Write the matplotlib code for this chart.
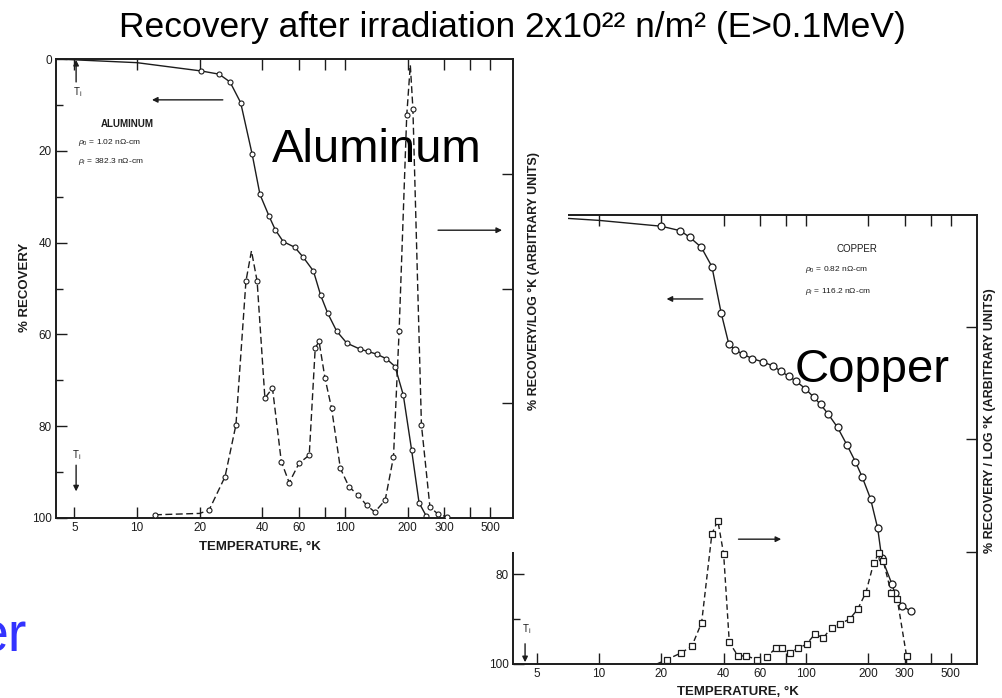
import matplotlib
matplotlib.use('Agg')
import matplotlib.pyplot as plt
import matplotlib.patches as mpatches
from matplotlib.ticker import FixedLocator, FixedFormatter, NullLocator

# ---------------- data ----------------
# Aluminum: % recovery (left axis, solid line)
al_rec_T = [4.1, 10, 20.3, 24.8, 28, 31.5, 35.8, 39, 43.2, 46.2, 50.5, 57.3, 63, 70.5,
            76.4, 82.6, 91.2, 102, 118, 128.5, 142, 158, 174, 190.6, 209, 227, 246]
al_rec = [0, 0.8, 2.6, 3.3, 5, 9.5, 20.8, 29.5, 34.3, 37.2, 39.8, 41, 43.2, 46.2,
          51.5, 55.4, 59.3, 61.9, 63.2, 63.7, 64.3, 65.3, 67, 73.2, 85.2, 96.7, 99.6]
# Aluminum: derivative (right axis, dashed line, arbitrary units)
al_der_T = [12.2, 20, 22.2, 26.5, 29.9, 33.4, 35.5, 37.8, 41.2, 44.8, 49.4, 53.9, 60.1,
            67.3, 71.9, 75, 80.1, 86.2, 95, 104.5, 115.5, 126.9, 139, 156, 171, 182,
            198, 206, 212, 233, 256, 279, 309]
al_der = [0.7, 1, 1.7, 9, 20.3, 51.6, 58.2, 51.6, 26.1, 28.3, 12.3, 7.7, 11.9,
          13.7, 37, 38.5, 30.5, 23.9, 10.8, 6.8, 5, 2.8, 1.3, 3.9, 13.3, 40.7,
          87.7, 98.7, 89.2, 20.3, 2.4, 0.9, 0.2]

# Copper: % recovery (left axis, solid line)
cu_rec_T = [3.9, 10, 20.0, 24.7, 27.5, 31.2, 35.1, 38.9, 42.4, 45.2, 49.6, 55.1, 61.7,
            69.1, 75.6, 82.4, 89.4, 99.4, 109, 117.6, 127.8, 142, 158, 173, 187, 205,
            222, 232, 260, 268, 290, 320]
cu_rec = [0, 1.2, 2.5, 3.5, 5, 7.2, 11.5, 21.8, 28.8, 30, 31, 32, 32.7,
          33.6, 34.8, 35.9, 37, 38.7, 40.6, 42.2, 44.3, 47.3, 51.3, 54.9, 58.4, 63.2,
          69.8, 76.3, 82.2, 84.1, 87, 88.2]
# Copper: derivative (right axis, dashed line with squares)
cu_der_T = [19, 21.3, 25, 28.1, 31.3, 35.1, 37.5, 40, 42.6, 46.9, 51.5, 57.8, 64.6,
            71.8, 76.6, 83.5, 91.3, 100.6, 110, 121.4, 133, 146.7, 162.5, 177.6,
            194.6, 212.6, 225.5, 236, 257.8, 276, 306, 306]
cu_der = [0, 1, 2.5, 4, 9.2, 29, 31.9, 24.5, 4.8, 1.8, 1.8, 1, 1.6,
          3.6, 3.6, 2.5, 3.5, 4.4, 6.6, 5.9, 8.1, 9, 10, 12.2,
          15.9, 22.6, 24.8, 23, 15.9, 14.4, 1.8, 0]

temp_ticks = [5, 10, 20, 40, 60, 80, 100, 200, 300, 400, 500]
temp_labels = ['5', '10', '20', '40', '60', '', '100', '200', '300', '', '500']
rec_ticks = [0, 20, 40, 60, 80, 100]
rec_minor = [10, 30, 50, 70, 90]
arb_ticks = [25, 50, 75]

title = 'Recovery after irradiation 2x10\u00b2\u00b2 n/m\u00b2 (E>0.1MeV)'

# ---------------- style ----------------
plt.rcParams['font.family'] = ['Liberation Sans', 'DejaVu Sans']
plt.rcParams['mathtext.fontset'] = 'custom'
plt.rcParams['mathtext.rm'] = 'Liberation Sans'
plt.rcParams['mathtext.it'] = 'Liberation Sans:italic'
plt.rcParams['mathtext.bf'] = 'Liberation Sans:bold'

ink = '#1c1c1c'
W, H = 1003, 698
fig = plt.figure(figsize=(W / 100, H / 100), dpi=100)
fig.patch.set_facecolor('white')


def box(x0, y0, x1, y1):
    return [x0 / W, 1 - y1 / H, (x1 - x0) / W, (y1 - y0) / H]


def ftext(x, y, s, **kw):
    return fig.text(x / W, 1 - y / H, s, **kw)


def style_axes(ax, axb, xlim, fs_tick=8.5):
    ax.set_xscale('log')
    ax.set_xlim(*xlim)
    ax.set_ylim(100, 0)
    ax.xaxis.set_major_locator(FixedLocator(temp_ticks))
    ax.xaxis.set_major_formatter(FixedFormatter(temp_labels))
    ax.xaxis.set_minor_locator(NullLocator())
    ax.yaxis.set_major_locator(FixedLocator(rec_ticks))
    ax.yaxis.set_minor_locator(FixedLocator(rec_minor))
    ax.tick_params(which='both', direction='in', top=True, right=False,
                   color=ink, labelcolor=ink, labelsize=fs_tick, pad=3, width=1.0)
    ax.tick_params(which='major', length=8)
    ax.tick_params(which='minor', length=5)
    for sp in ax.spines.values():
        sp.set_linewidth(1.4)
        sp.set_color(ink)
    axb.set_ylim(0, 100)
    axb.yaxis.set_major_locator(FixedLocator(arb_ticks))
    axb.tick_params(direction='in', length=8, width=1.0, color=ink, labelright=False)
    for sp in axb.spines.values():
        sp.set_visible(False)


# ---------------- copper (behind) ----------------
axc = fig.add_axes(box(513, 215, 977, 664))
axc.set_zorder(1)
axcb = axc.twinx()
axcb.set_zorder(1.1)
style_axes(axc, axcb, (3.84, 670))
axc.plot(cu_rec_T, cu_rec, '-', color=ink, lw=1.0, marker='o', ms=5, mfc='white',
         mec=ink, mew=0.9, markevery=list(range(2, len(cu_rec))))
axcb.plot(cu_der_T, cu_der, color=ink, lw=1.0, ls=(0, (4, 2.5)), marker='s', ms=4.5,
          mfc='white', mec=ink, mew=0.9, markevery=list(range(1, len(cu_der) - 1)))
axc.text(0.742, 0.924, 'COPPER', transform=axc.transAxes, ha='center', va='center',
         fontsize=7, color=ink)
axc.text(0.629, 0.878, r'$\rho_0$ = 0.82 n$\Omega$-cm', transform=axc.transAxes,
         ha='left', va='center', fontsize=6, color=ink)
axc.text(0.629, 0.829, r'$\rho_i$ = 116.2 n$\Omega$-cm', transform=axc.transAxes,
         ha='left', va='center', fontsize=6, color=ink)
arw = dict(arrowstyle='-|>', color=ink, lw=1.0, mutation_scale=8, shrinkA=0, shrinkB=0)
axc.annotate('', xy=(0.331, 0.813), xytext=(0.409, 0.813), xycoords='axes fraction', arrowprops=arw)
axc.annotate('', xy=(0.578, 0.278), xytext=(0.486, 0.278), xycoords='axes fraction', arrowprops=arw)
axc.annotate('', xy=(0.026, 0.004), xytext=(0.026, 0.045), xycoords='axes fraction', arrowprops=arw)
axc.text(0.03, 0.062, r'T$_{\mathrm{i}}$', transform=axc.transAxes, ha='center', va='bottom',
         fontsize=7, color=ink)
ftext(738, 692, 'TEMPERATURE, °K', ha='center', va='center', fontsize=9.5,
      fontweight='bold', color=ink)
ftext(990, 421, '% RECOVERY / LOG °K (ARBITRARY UNITS)', ha='center', va='center',
      rotation=90, fontsize=9, fontweight='bold', color=ink)

# white cover: aluminum figure pasted over copper figure
cover = mpatches.Rectangle((0, 1 - 552 / H), 568 / W, (552 - 50) / H,
                           transform=fig.transFigure, facecolor='white',
                           edgecolor='none', zorder=2)
fig.add_artist(cover)

# ---------------- aluminum (front) ----------------
axa = fig.add_axes(box(56, 59, 513, 518))
axa.set_zorder(3)
axab = axa.twinx()
axab.set_zorder(3.1)
style_axes(axa, axab, (4.08, 642))
axa.plot(al_rec_T, al_rec, '-', color=ink, lw=1.0, marker='o', ms=3.6, mfc='white',
         mec=ink, mew=0.8, markevery=list(range(2, len(al_rec))))
axab.plot(al_der_T, al_der, color=ink, lw=1.0, ls=(0, (5, 2.5)), marker='o', ms=3.6,
          mfc='white', mec=ink, mew=0.8,
          markevery=[i for i in range(len(al_der)) if i not in (1, 6, 27)])
axa.text(0.155, 0.858, 'ALUMINUM', transform=axa.transAxes, ha='center', va='center',
         fontsize=7, fontweight='bold', color=ink)
axa.text(0.048, 0.817, r'$\rho_0$ = 1.02 n$\Omega$-cm', transform=axa.transAxes,
         ha='left', va='center', fontsize=6, color=ink)
axa.text(0.048, 0.776, r'$\rho_i$ = 382.3 n$\Omega$-cm', transform=axa.transAxes,
         ha='left', va='center', fontsize=6, color=ink)
axa.annotate('', xy=(0.21, 0.911), xytext=(0.365, 0.911), xycoords='axes fraction', arrowprops=arw)
axa.annotate('', xy=(0.976, 0.627), xytext=(0.836, 0.627), xycoords='axes fraction', arrowprops=arw)
axa.annotate('', xy=(0.044, 0.998), xytext=(0.044, 0.95), xycoords='axes fraction', arrowprops=arw)
axa.text(0.048, 0.928, r'T$_{\mathrm{i}}$', transform=axa.transAxes, ha='center', va='center',
         fontsize=7, color=ink)
axa.text(0.044, 0.137, r'T$_{\mathrm{i}}$', transform=axa.transAxes, ha='center', va='center',
         fontsize=7, color=ink)
axa.annotate('', xy=(0.044, 0.058), xytext=(0.044, 0.115), xycoords='axes fraction', arrowprops=arw)
ftext(25, 287, '% RECOVERY', ha='center', va='center', rotation=90, fontsize=9.5,
      fontweight='bold', color=ink)
ftext(260, 547, 'TEMPERATURE, °K', ha='center', va='center', fontsize=9.5,
      fontweight='bold', color=ink)
ftext(534, 281, '% RECOVERY/LOG °K (ARBITRARY UNITS)', ha='center', va='center',
      rotation=90, fontsize=9, fontweight='bold', color=ink, zorder=4)

# ---------------- slide text ----------------
ftext(512, 28, title, ha='center', va='center', fontsize=25.5, color='black', zorder=10)
ftext(272, 162, 'Aluminum', ha='left', va='baseline', fontsize=34, color='black', zorder=10)
ftext(795, 382, 'Copper', ha='left', va='baseline', fontsize=34, color='black', zorder=10)
ftext(27, 652, 'er', ha='right', va='baseline', fontsize=40, color='#3333ff', zorder=10)

fig.savefig('out.png', dpi=100)
